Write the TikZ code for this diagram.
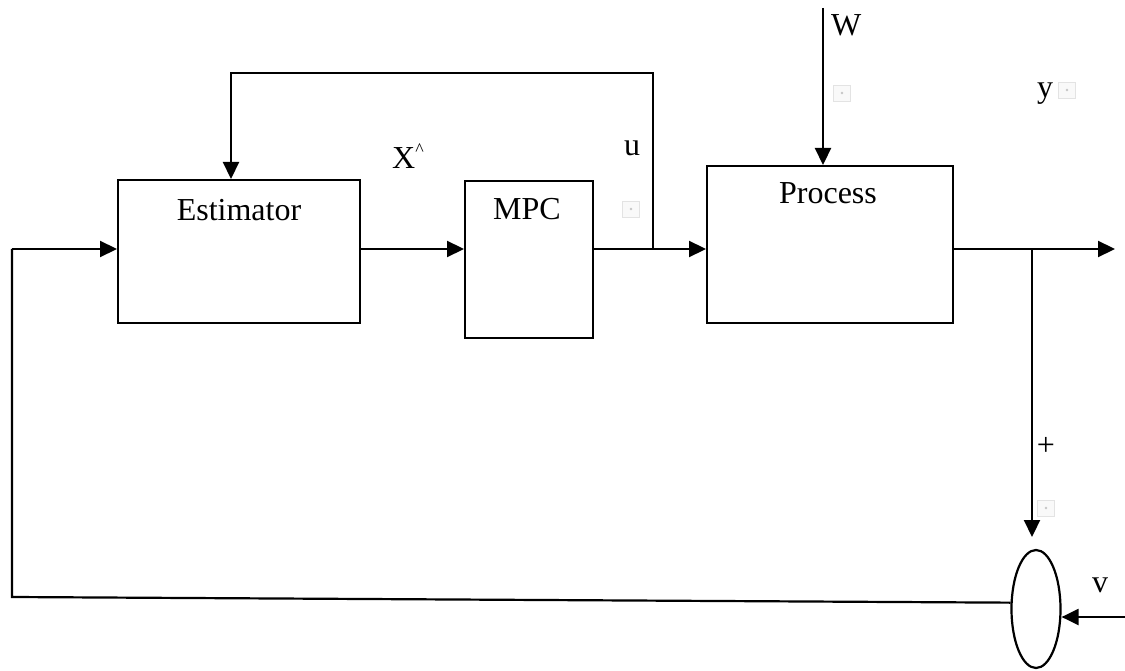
\documentclass[tikz,border=0pt]{standalone}
\usepackage{fontspec}
\setmainfont{Liberation Serif}
\usetikzlibrary{arrows.meta,shapes.geometric}
\tikzset{
  blk/.style={draw, line width=2.2pt, rectangle, inner sep=0pt, anchor=north west},
  lbl/.style={inner sep=0pt, font=\fontsize{32}{38}\selectfont},
  conn/.style={line width=2.2pt},
  arr/.style={line width=2.2pt, -{Triangle[length=17pt,width=16pt]}},
  wm/.style={draw=gray!22, fill=gray!5, line width=0.6pt, minimum width=17pt, minimum height=16pt, inner sep=0pt},
}
\begin{document}
\begin{tikzpicture}[x=1pt,y=-1pt]
\useasboundingbox (0,0) rectangle (1125,671);
% blocks
\node[blk, minimum width=242pt, minimum height=143pt] (est) at (117,179) {};
\node[blk, minimum width=128pt, minimum height=157pt] (mpc) at (464,180) {};
\node[blk, minimum width=246pt, minimum height=157pt] (proc) at (706,165) {};
\node[draw, line width=2.2pt, ellipse, inner sep=0pt, minimum width=49pt, minimum height=118pt] (sum) at (1036,609) {};
% block texts
\node[lbl, anchor=base] (estT) at (239,221) {Estimator};
\node[lbl, anchor=base] (mpcT) at (527,220) {MPC};
\node[lbl, anchor=base] (procT) at (828,204) {Process};
% labels
\node[lbl, anchor=base west] (W) at (831,36) {W};
\node[lbl, anchor=base west] (y) at (1037,98) {y};
\node[lbl, anchor=base west] (xh) at (392,169) {X\raisebox{0.9ex}{\fontsize{18}{20}\selectfont\textasciicircum}};
\node[lbl, anchor=base west] (u) at (624,156) {u};
\node[lbl] (plus) at (1046,446) {+};
\node[lbl, anchor=base west] (v) at (1092,592) {v};
% small marks
\node[wm] (m1) at (842,93) {};
\node[wm] (m2) at (631,209) {};
\node[wm] (m3) at (1046,508) {};
\node[wm] (m4) at (1067,90) {};
\foreach \m in {m1,m2,m3,m4} \fill[gray!45] (\m) circle (1.3pt);
% coordinates
\coordinate (L) at (12,249);
\coordinate (LB) at (12,597);
\coordinate (J) at (653,249);
\coordinate (T1) at (653,73);
\coordinate (T2) at (231,73);
\coordinate (Wtop) at (823,8);
\coordinate (Out) at (1115,249);
\coordinate (J2) at (1032,249);
\coordinate (J2e) at (1032,537);
\coordinate (V) at (1125,617);
% connectors
\draw[arr] (L) -- (L -| est.west);
\draw[arr] (est.east |- L) -- (mpc.west |- L);
\draw[arr] (mpc.east |- L) -- (proc.west |- L);
\draw[arr] (proc.east |- L) -- (Out);
\draw[arr] (J) -- (T1) -- (T2) -- (T2 |- est.north);
\draw[arr] (Wtop) -- (Wtop |- proc.north);
\draw[arr] (J2) -- (J2e);
\draw[arr] (V) -- (sum.east |- V);
\draw[conn, line join=miter] (sum.166) -- (LB) -- (L);
\end{tikzpicture}
\end{document}
